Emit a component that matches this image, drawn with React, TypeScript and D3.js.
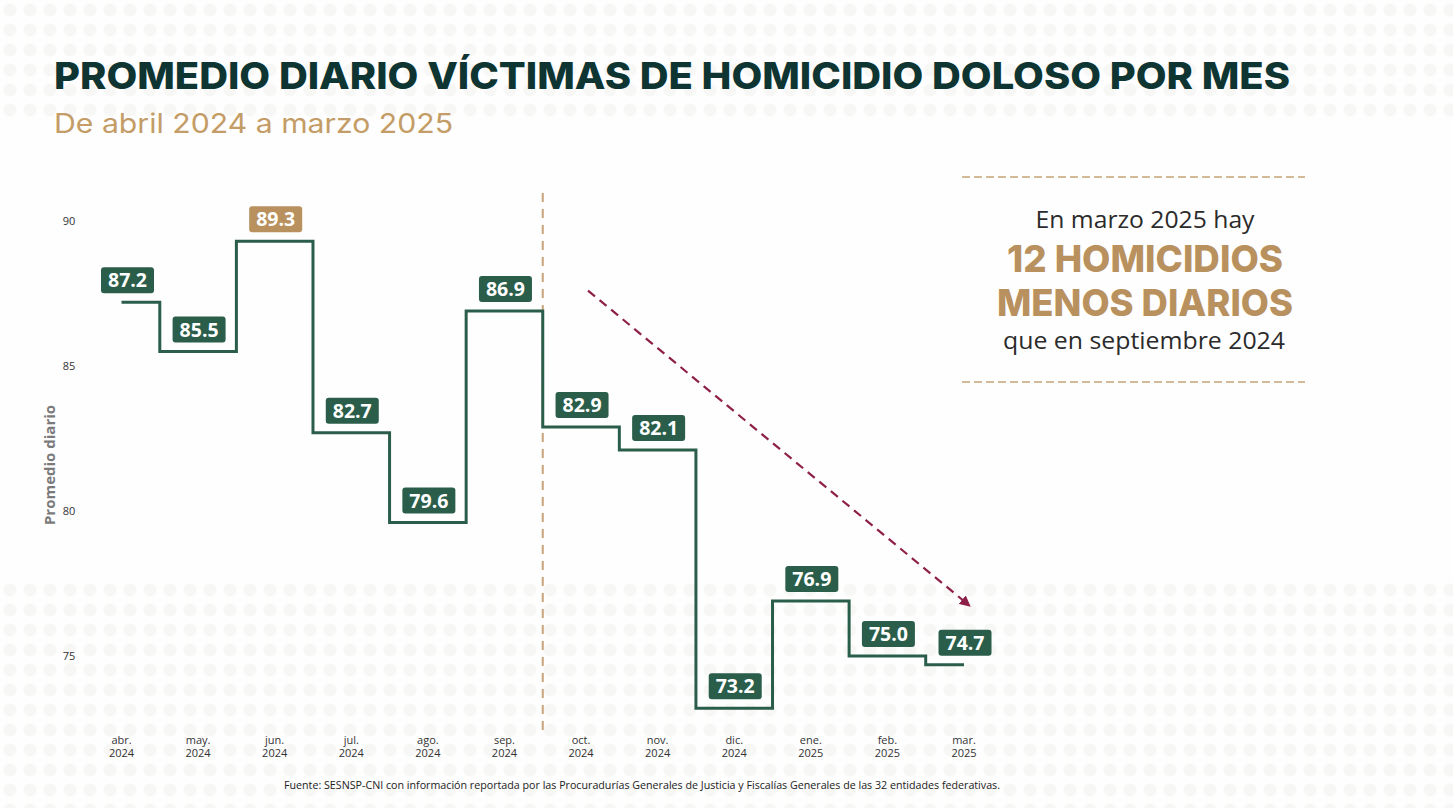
import React from "react";
import * as d3 from "d3";

const months = ["abr.", "may.", "jun.", "jul.", "ago.", "sep.", "oct.", "nov.", "dic.", "ene.", "feb.", "mar."];
const years = ["2024", "2024", "2024", "2024", "2024", "2024", "2024", "2024", "2024", "2025", "2025", "2025"];
const values = [87.2, 85.5, 89.3, 82.7, 79.6, 86.9, 82.9, 82.1, 73.2, 76.9, 75.0, 74.7];
const yTicks = [75, 80, 85, 90];
const highlightIndex = 2;

const W = 1453;
const H = 808;
const GREEN = "#2a5e4b";
const GOLD = "#b8915e";
const DARK = "#0e3532";

export default function App() {
  const x = d3.scalePoint<string>().domain(months.map((m, i) => m + i)).range([121.5, 964]);
  const y = d3.scaleLinear().domain([75, 90]).range([656, 221]);
  const xi = (i: number) => x(months[i] + i) as number;

  const pts: [number, number][] = values.map((v, i) => [xi(i), y(v)]);
  const linePath = d3.line().curve(d3.curveStep)(pts) as string;

  const splitX = (xi(5) + xi(6)) / 2;

  // trend arrow from between sep/oct to near mar
  const ax1 = 588, ay1 = y(87.6);
  const ax2 = 969, ay2 = y(76.75);

  // background dots pattern
  const dots: JSX.Element[] = [];
  for (let r = 0; r < 41; r++) {
    const cy = 10 + r * 20;
    const inBand = cy < 115 || cy > 570;
    if (!inBand) continue;
    for (let c = 0; c < 74; c++) {
      dots.push(<circle key={r + "-" + c} cx={10 + c * 20} cy={cy} r={6.5} fill="#f7f7f6" />);
    }
  }

  return (
    <svg width={W} height={H} style={{ position: "absolute", left: 0, top: 0, background: "#fefefe" }}
      fontFamily="'Open Sans', sans-serif">
      <rect width={W} height={H} fill="#fefefe" />
      <g>{dots}</g>

      {/* Title */}
      <text x={54} y={89} fontFamily="Inter, sans-serif" fontWeight={800} fontSize={37} fill={DARK}
        textLength={1236} lengthAdjust="spacingAndGlyphs">PROMEDIO DIARIO VÍCTIMAS DE HOMICIDIO DOLOSO POR MES</text>
      <text x={54} y={133} fontFamily="Inter, sans-serif" fontWeight={400} fontSize={27} fill="#c49c66"
        textLength={399} lengthAdjust="spacingAndGlyphs">De abril 2024 a marzo 2025</text>

      {/* Y axis */}
      {yTicks.map((t) => (
        <text key={t} x={69} y={y(t) + 4} fontSize={11} fill="#333" textAnchor="middle">{t}</text>
      ))}
      <text transform={`translate(55,${465}) rotate(-90)`} textAnchor="middle" fontSize={15} fontWeight={700}
        fill="#7a7a7a">Promedio diario</text>

      {/* X axis labels */}
      {months.map((m, i) => (
        <g key={i}>
          <text x={xi(i)} y={744} fontSize={11} fill="#333" textAnchor="middle">{m}</text>
          <text x={xi(i)} y={757} fontSize={11} fill="#333" textAnchor="middle">{years[i]}</text>
        </g>
      ))}

      {/* Divider */}
      <line x1={splitX} x2={splitX} y1={193} y2={735} stroke="#c8a478" strokeWidth={2} strokeDasharray="9,7" />

      {/* Step line */}
      <path d={linePath} fill="none" stroke={GREEN} strokeWidth={3} strokeLinejoin="miter" />

      {/* Trend arrow */}
      <defs>
        <marker id="ah" viewBox="0 0 10 10" refX={8} refY={5} markerWidth={5} markerHeight={5} orient="auto">
          <path d="M0,0 L10,5 L0,10 z" fill="#8e1f48" />
        </marker>
      </defs>
      <line x1={ax1} y1={ay1} x2={ax2} y2={ay2} stroke="#8e1f48" strokeWidth={2.2} strokeDasharray="9,6"
        markerEnd="url(#ah)" />

      {/* Value labels */}
      {values.map((v, i) => {
        const cx = xi(i) + (i === 0 ? 6 : 1);
        const bottom = y(v) - 9;
        const w = 53, h = 26;
        return (
          <g key={i}>
            <rect x={cx - w / 2} y={bottom - h} width={w} height={h} rx={3}
              fill={i === highlightIndex ? GOLD : GREEN} />
            <text x={cx} y={bottom - 6} textAnchor="middle" fontSize={19.5} fontWeight={700} fill="#fff">
              {v.toFixed(1)}
            </text>
          </g>
        );
      })}

      {/* Right callout */}
      <line x1={962} x2={1305} y1={177} y2={177} stroke="#c8a478" strokeWidth={1.3} strokeDasharray="8,4" />
      <line x1={962} x2={1305} y1={382} y2={382} stroke="#c8a478" strokeWidth={1.3} strokeDasharray="8,4" />
      <text x={1145} y={228} textAnchor="middle" fontSize={23.5} fill="#2b2b2b"
        textLength={219} lengthAdjust="spacingAndGlyphs">En marzo 2025 hay</text>
      <text x={1145} y={272} textAnchor="middle" fontFamily="Inter, sans-serif" fontWeight={800} fontSize={37}
        fill={GOLD} textLength={276} lengthAdjust="spacingAndGlyphs">12 HOMICIDIOS</text>
      <text x={1145} y={316} textAnchor="middle" fontFamily="Inter, sans-serif" fontWeight={800} fontSize={37}
        fill={GOLD} textLength={296} lengthAdjust="spacingAndGlyphs">MENOS DIARIOS</text>
      <text x={1144} y={349} textAnchor="middle" fontSize={23.5} fill="#2b2b2b"
        textLength={282} lengthAdjust="spacingAndGlyphs">que en septiembre 2024</text>

      {/* Footer */}
      <text x={642} y={789} textAnchor="middle" fontSize={10.5} fill="#222"
        textLength={716} lengthAdjust="spacingAndGlyphs">
        Fuente: SESNSP-CNI con información reportada por las Procuradurías Generales de Justicia y Fiscalías Generales de las 32 entidades federativas.
      </text>
    </svg>
  );
}
